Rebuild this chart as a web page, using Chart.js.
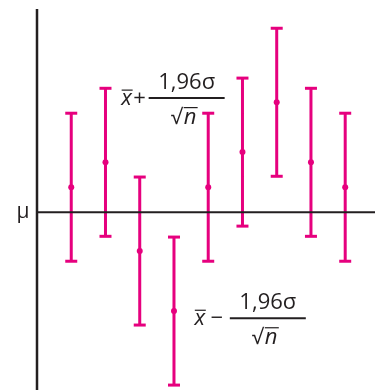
<!DOCTYPE html>
<html>
<head>
<meta charset="utf-8">
<script src="https://cdn.jsdelivr.net/npm/chart.js@4.4.1/dist/chart.umd.min.js"></script>
<style>
  html, body { margin: 0; padding: 0; background: #fff; }
</style>
</head>
<body>
<canvas id="chart" width="380" height="390"></canvas>
<script>
// sample number (x) and sample mean relative to mu, in units of sigma/sqrt(n)
const samples = [1, 2, 3, 4, 5, 6, 7, 8, 9];
const means = [0.66, 1.32, -1.03, -2.62, 0.66, 1.59, 2.91, 1.32, 0.66];
const margin = 1.96;
const mu = 0;

const yMin = -4.71, yMax = 5.38;
const xMin = 0, xMax = 9.87;

const pink = '#e6007e';
const ink = '#231f20';
const font = '"Open Sans", "DejaVu Sans", sans-serif';

// vertical bars as one line dataset with gaps between intervals
const barPoints = [];
samples.forEach((s, i) => {
  barPoints.push({ x: s, y: means[i] - margin });
  barPoints.push({ x: s, y: means[i] + margin });
  barPoints.push({ x: s, y: null });
});
const capPoints = [];
samples.forEach((s, i) => {
  capPoints.push({ x: s, y: means[i] - margin });
  capPoints.push({ x: s, y: means[i] + margin });
});
const meanPoints = samples.map((s, i) => ({ x: s, y: means[i] }));

function drawFormula(ctx, cx, cy, sign, xOff, signOff) {
  ctx.save();
  ctx.fillStyle = ink;
  ctx.strokeStyle = ink;
  // fraction line
  ctx.lineWidth = 2;
  ctx.beginPath();
  ctx.moveTo(cx - 38, cy);
  ctx.lineTo(cx + 38, cy);
  ctx.stroke();
  // numerator
  ctx.font = '22px ' + font;
  ctx.textAlign = 'center';
  ctx.textBaseline = 'alphabetic';
  ctx.fillText('1,96σ', cx, cy - 9);
  // denominator: sqrt n
  ctx.textAlign = 'left';
  ctx.font = '21px ' + font;
  ctx.fillText('√', cx - 16, cy + 26);
  ctx.font = 'italic 22px ' + font;
  ctx.fillText('n', cx - 3, cy + 26);
  ctx.lineWidth = 1.2;
  ctx.beginPath();
  ctx.moveTo(cx - 3, cy + 9.5);
  ctx.lineTo(cx + 11, cy + 9.5);
  ctx.stroke();
  // x-bar and sign
  ctx.textAlign = 'center';
  ctx.font = 'italic 22px ' + font;
  ctx.fillText('x', cx - xOff, cy + 7);
  ctx.lineWidth = 1.2;
  ctx.beginPath();
  ctx.moveTo(cx - xOff - 5, cy - 8);
  ctx.lineTo(cx - xOff + 6, cy - 8);
  ctx.stroke();
  ctx.font = '22px ' + font;
  ctx.fillText(sign, cx - signOff, cy + 7);
  ctx.restore();
}

const labelsPlugin = {
  id: 'labels',
  afterDraw(chart) {
    const ctx = chart.ctx;
    const xs = chart.scales.x, ys = chart.scales.y;
    // mu label
    ctx.save();
    ctx.fillStyle = ink;
    ctx.font = '21px ' + font;
    ctx.textAlign = 'center';
    ctx.textBaseline = 'alphabetic';
    ctx.fillText('μ', xs.getPixelForValue(xMin) - 14, ys.getPixelForValue(mu) + 6);
    ctx.restore();
    drawFormula(ctx, xs.getPixelForValue(4.37), ys.getPixelForValue(3.02), '+', 60, 47);
    drawFormula(ctx, xs.getPixelForValue(6.74), ys.getPixelForValue(-2.81), '−', 68, 51);
  }
};

new Chart(document.getElementById('chart'), {
  type: 'scatter',
  data: {
    datasets: [
      {
        type: 'line',
        data: [{ x: xMin, y: mu }, { x: xMax, y: mu }],
        borderColor: ink,
        borderWidth: 2,
        pointRadius: 0,
        clip: false
      },
      {
        type: 'line',
        data: [{ x: xMin, y: yMin }, { x: xMin, y: yMax }],
        borderColor: ink,
        borderWidth: 2.5,
        pointRadius: 0,
        clip: false
      },
      {
        type: 'line',
        data: barPoints,
        borderColor: pink,
        borderWidth: 3,
        pointRadius: 0,
        spanGaps: false,
        clip: false
      },
      {
        data: capPoints,
        pointStyle: 'line',
        pointRadius: 6,
        borderColor: pink,
        borderWidth: 3,
        clip: false
      },
      {
        data: meanPoints,
        pointStyle: 'circle',
        pointRadius: 3,
        backgroundColor: pink,
        borderColor: pink,
        borderWidth: 0,
        clip: false
      }
    ]
  },
  options: {
    responsive: false,
    animation: false,
    layout: { autoPadding: false, padding: { left: 37, right: 5, top: 9, bottom: 0 } },
    plugins: { legend: { display: false }, tooltip: { enabled: false } },
    scales: {
      x: { type: 'linear', min: xMin, max: xMax, display: false },
      y: { type: 'linear', min: yMin, max: yMax, display: false }
    }
  },
  plugins: [labelsPlugin]
});
</script>
</body>
</html>
